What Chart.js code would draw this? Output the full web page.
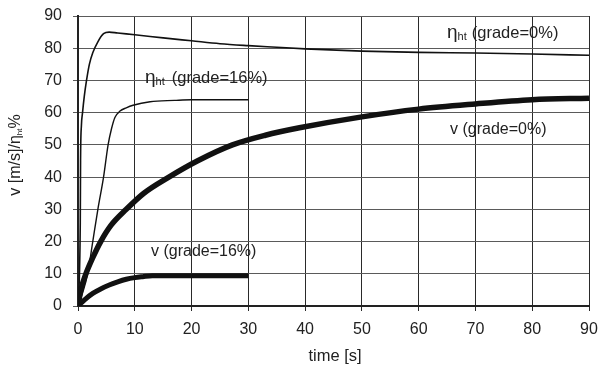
<!DOCTYPE html>
<html>
<head>
<meta charset="utf-8">
<script src="https://cdn.jsdelivr.net/npm/chart.js@4.4.0/dist/chart.umd.min.js"></script>
<style>
  html, body { margin: 0; padding: 0; background: #fff; }
  #wrap { width: 598px; height: 369px; }
</style>
</head>
<body>
<div id="wrap"><canvas id="myChart" width="598" height="369"></canvas></div>
<script>
// tick labels
var xTicks = [0, 10, 20, 30, 40, 50, 60, 70, 80, 90];
var yTicks = [0, 10, 20, 30, 40, 50, 60, 70, 80, 90];

// eta_ht, grade = 0%
var eta0Time  = [0, 0.4, 0.45, 0.6, 0.8, 1.1, 1.5, 2.0, 2.6, 3.5, 4.5, 5.5, 7, 10, 15, 20, 25, 30, 35, 40, 50, 60, 70, 80, 90];
var eta0Value = [0, 26, 45, 56, 60, 65, 70, 75, 78.6, 82, 84.5, 85, 84.7, 84.2, 83.2, 82.3, 81.4, 80.8, 80.3, 79.8, 79.1, 78.7, 78.5, 78.2, 77.8];

// eta_ht, grade = 16%
var eta16Time  = [0, 0.8, 1.7, 2.6, 3.5, 4.5, 5.3, 5.9, 6.5, 7.4, 8.5, 9.7, 12.7, 17, 20, 30];
var eta16Value = [0, 4, 10, 20, 30, 40, 50, 55, 58.5, 60.5, 61.5, 62.3, 63.4, 63.8, 64, 64];

// v, grade = 0%
var v0Time  = [0, 0.5, 1.4, 2.6, 4.0, 5.8, 8.5, 11.6, 16, 21, 27.2, 33, 39, 50, 60, 70, 80, 90];
var v0Value = [0, 5, 10, 15, 20, 25, 30, 35, 40, 45, 50, 53, 55.3, 58.7, 61.1, 62.7, 64, 64.5];

// v, grade = 16%
var v16Time  = [0, 1.2, 2.6, 4, 5.5, 7, 8.5, 10, 11.4, 13.1, 20, 30];
var v16Value = [0, 2, 3.9, 5.3, 6.5, 7.5, 8.3, 8.8, 9.1, 9.4, 9.4, 9.4];

var FONT = "'Liberation Sans', Arial, sans-serif";
var INK = '#222';

function pts(t, v) {
    var out = [];
    for (var i = 0; i < t.length; i++) out.push({x: t[i], y: v[i]});
    return out;
}

function line(label, t, v, w) {
    return {
        label: label,
        data: pts(t, v),
        borderColor: '#111',
        borderWidth: w,
        pointRadius: 0,
        fill: false,
        cubicInterpolationMode: 'monotone',
        borderJoinStyle: 'round'
    };
}

// piece-wise text with subscripts
function drawParts(ctx, parts, x, y) {
    parts.forEach(function(p) {
        ctx.font = (p.size || 16) + 'px ' + FONT;
        ctx.fillText(p.text, x, y + (p.dy || 0));
        x += ctx.measureText(p.text).width + (p.gap || 0);
    });
}

var labelsPlugin = {
    id: 'labels',
    afterDraw: function(chart) {
        var ctx = chart.ctx;
        ctx.save();
        ctx.fillStyle = INK;
        ctx.textBaseline = 'middle';
        ctx.textAlign = 'left';

        drawParts(ctx, [{text: '\u03b7', size: 19}, {text: 'ht', size: 11, dy: 4, gap: 5}, {text: '(grade=0%)', size: 16.5}], 447, 33);
        drawParts(ctx, [{text: '\u03b7', size: 19}, {text: 'ht', size: 11, dy: 4, gap: 7}, {text: '(grade=16%)', size: 16.5}], 145, 78);
        drawParts(ctx, [{text: 'v (grade=0%)', size: 16}], 450, 130);
        drawParts(ctx, [{text: 'v (grade=16%)', size: 16}], 151, 252);

        // x title
        ctx.textAlign = 'center';
        ctx.font = '16.5px ' + FONT;
        ctx.fillText('time [s]', 335, 356);

        // y title, rotated
        ctx.translate(16, 155);
        ctx.rotate(-Math.PI / 2);
        ctx.textAlign = 'left';
        var parts = [{text: 'v [m/s]/\u03b7', size: 16}, {text: 'ht', size: 8, dy: 4}, {text: '%', size: 16}];
        var total = 0;
        parts.forEach(function(p) { ctx.font = p.size + 'px ' + FONT; total += ctx.measureText(p.text).width; });
        drawParts(ctx, parts, -total / 2, 0);
        ctx.restore();
    }
};

var ctx = document.getElementById('myChart');
var chart = new Chart(ctx, {
    type: 'line',
    data: {
        datasets: [
            line('v (grade=0%)', v0Time, v0Value, 5.5),
            line('v (grade=16%)', v16Time, v16Value, 5),
            line('eta (grade=0%)', eta0Time, eta0Value, 1.6),
            line('eta (grade=16%)', eta16Time, eta16Value, 1.4)
        ]
    },
    options: {
        responsive: false,
        animation: false,
        events: [],
        layout: { padding: { top: 16, right: 9, left: 0, bottom: 0 } },
        plugins: {
            legend: { display: false },
            tooltip: { enabled: false }
        },
        scales: {
            x: {
                type: 'linear',
                min: 0, max: 90,
                afterBuildTicks: function(s) { s.ticks = xTicks.map(function(v) { return {value: v}; }); },
                afterFit: function(s) { s.height = 63; s.paddingLeft = 0; s.paddingRight = 0; },
                grid: { color: '#2a2a2a', lineWidth: 1, tickLength: 5, drawTicks: true },
                border: { color: '#222', width: 2 },
                ticks: { color: INK, font: { family: FONT, size: 16 }, padding: 9, maxRotation: 0 }
            },
            y: {
                min: 0, max: 90,
                afterBuildTicks: function(s) { s.ticks = yTicks.map(function(v) { return {value: v}; }); },
                afterFit: function(s) { s.width = 78; s.paddingTop = 0; s.paddingBottom = 0; },
                grid: { color: '#5a5a5a', lineWidth: 1, tickLength: 5 },
                border: { color: '#222', width: 2 },
                ticks: { color: INK, font: { family: FONT, size: 16 }, padding: 11 }
            }
        }
    },
    plugins: [labelsPlugin]
});
</script>
</body>
</html>
